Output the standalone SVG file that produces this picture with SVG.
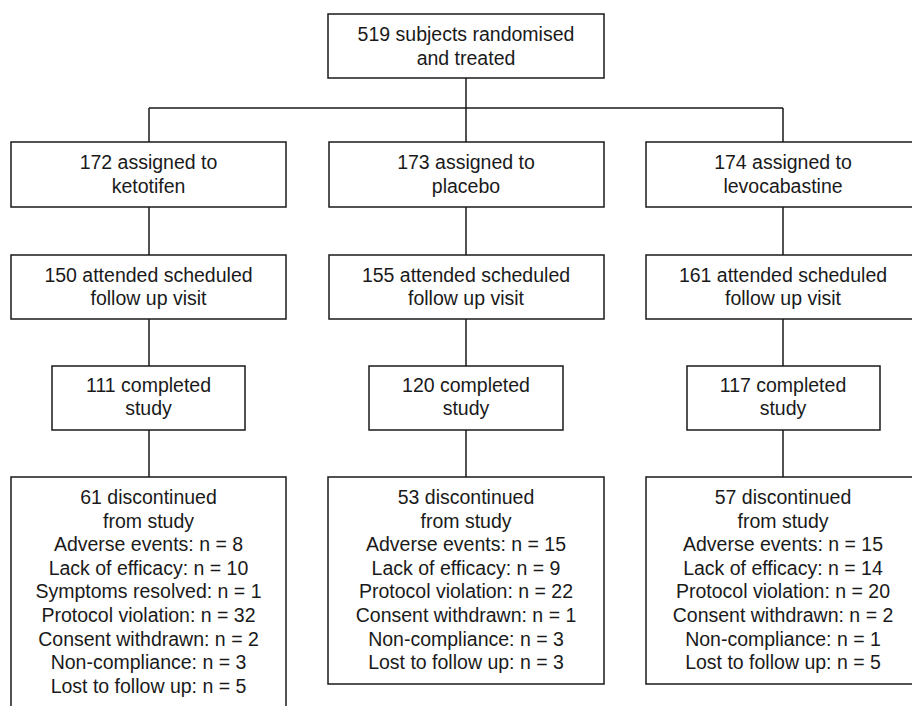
<svg xmlns="http://www.w3.org/2000/svg" width="912" height="706" viewBox="0 0 912 706">
<style>
.box{fill:#fff;stroke:#1a1a1a;stroke-width:1.5}
.ln{fill:none;stroke:#1a1a1a;stroke-width:1.5}
text{font-family:"Liberation Sans",Arial,sans-serif;font-size:19.5px;fill:#1a1a1a;text-anchor:middle}
</style>
<rect width="912" height="706" fill="#fff"/>
<g id="connectors" class="ln">
<path d="M466 78V108M149 108H783M149 108V142M466 108V142M783 108V142"/>
<path d="M149 207V255M466 207V255M783 207V255"/>
<path d="M149 319V366M466 319V366M783 319V366"/>
<path d="M149 430V477M466 430V477M783 430V477"/>
</g>
<g id="n-top"><rect class="box" x="328" y="14" width="276" height="64"/>
<text x="466" y="41">519 subjects randomised</text><text x="466" y="65">and treated</text></g>
<g id="n-keto"><rect class="box" x="11" y="142" width="275" height="65"/>
<text x="148.5" y="169">172 assigned to</text><text x="148.5" y="193">ketotifen</text></g>
<g id="n-plac"><rect class="box" x="329" y="142" width="275" height="65"/>
<text x="466" y="169">173 assigned to</text><text x="466" y="193">placebo</text></g>
<g id="n-levo"><rect class="box" x="646" y="142" width="275" height="65"/>
<text x="783" y="169">174 assigned to</text><text x="783" y="193">levocabastine</text></g>
<g id="n-keto-fu"><rect class="box" x="11" y="255" width="275" height="64"/>
<text x="148.5" y="282">150 attended scheduled</text><text x="148.5" y="305">follow up visit</text></g>
<g id="n-plac-fu"><rect class="box" x="329" y="255" width="275" height="64"/>
<text x="466" y="282">155 attended scheduled</text><text x="466" y="305">follow up visit</text></g>
<g id="n-levo-fu"><rect class="box" x="646" y="255" width="275" height="64"/>
<text x="783" y="282">161 attended scheduled</text><text x="783" y="305">follow up visit</text></g>
<g id="n-keto-comp"><rect class="box" x="52" y="366" width="193" height="64"/>
<text x="148.5" y="392">111 completed</text><text x="148.5" y="415">study</text></g>
<g id="n-plac-comp"><rect class="box" x="369" y="366" width="194" height="64"/>
<text x="466" y="392">120 completed</text><text x="466" y="415">study</text></g>
<g id="n-levo-comp"><rect class="box" x="687" y="366" width="193" height="64"/>
<text x="783" y="392">117 completed</text><text x="783" y="415">study</text></g>
<g id="n-keto-disc"><rect class="box" x="11" y="477" width="275" height="250"/>
<text x="148.5" y="504">61 discontinued</text>
<text x="148.5" y="527.6">from study</text>
<text x="148.5" y="551.2">Adverse events: n = 8</text>
<text x="148.5" y="574.8">Lack of efficacy: n = 10</text>
<text x="148.5" y="598.4">Symptoms resolved: n = 1</text>
<text x="148.5" y="622">Protocol violation: n = 32</text>
<text x="148.5" y="645.6">Consent withdrawn: n = 2</text>
<text x="148.5" y="669.2">Non-compliance: n = 3</text>
<text x="148.5" y="692.8">Lost to follow up: n = 5</text></g>
<g id="n-plac-disc"><rect class="box" x="328" y="477" width="276" height="207"/>
<text x="466" y="504">53 discontinued</text>
<text x="466" y="527.6">from study</text>
<text x="466" y="551.2">Adverse events: n = 15</text>
<text x="466" y="574.8">Lack of efficacy: n = 9</text>
<text x="466" y="598.4">Protocol violation: n = 22</text>
<text x="466" y="622">Consent withdrawn: n = 1</text>
<text x="466" y="645.6">Non-compliance: n = 3</text>
<text x="466" y="669.2">Lost to follow up: n = 3</text></g>
<g id="n-levo-disc"><rect class="box" x="646" y="477" width="275" height="207"/>
<text x="783" y="504">57 discontinued</text>
<text x="783" y="527.6">from study</text>
<text x="783" y="551.2">Adverse events: n = 15</text>
<text x="783" y="574.8">Lack of efficacy: n = 14</text>
<text x="783" y="598.4">Protocol violation: n = 20</text>
<text x="783" y="622">Consent withdrawn: n = 2</text>
<text x="783" y="645.6">Non-compliance: n = 1</text>
<text x="783" y="669.2">Lost to follow up: n = 5</text></g>
</svg>
